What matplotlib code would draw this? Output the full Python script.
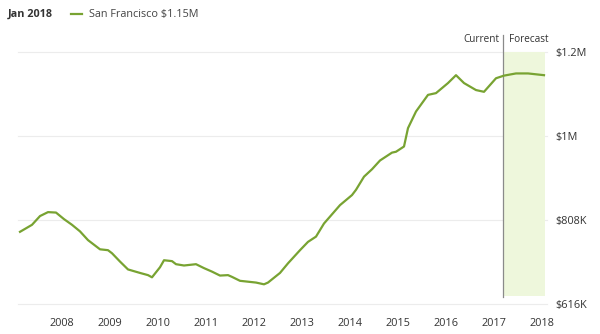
import matplotlib.pyplot as plt

# months counted from Jan 2008, values in $K
months = [0, 3, 5, 7, 9, 11, 13, 15, 17, 20, 22, 23, 25, 27, 30, 32, 33, 35, 36,
          38, 39, 41, 44, 46, 48, 50, 52, 53, 55, 57, 59, 61, 62, 65, 67, 70, 72,
          74, 76, 80, 83, 84, 86, 88, 90, 93, 94, 96, 97, 99, 102, 104, 107, 109,
          111, 114, 116, 119, 121, 124, 127, 131]
values = [781, 797, 817, 826, 825, 810, 797, 782, 762, 741, 739, 732, 713, 695,
          687, 682, 677, 700, 716, 714, 707, 704, 707, 698, 690, 681, 682, 678,
          669, 667, 665, 661, 665, 687, 709, 739, 758, 770, 800, 842, 865, 877,
          907, 924, 944, 962, 964, 976, 1018, 1056, 1094, 1098, 1121, 1139, 1121,
          1105, 1101, 1132, 1138, 1143, 1143, 1139]

year_labels = ["2008", "2009", "2010", "2011", "2012", "2013", "2014", "2015",
               "2016", "2017", "2018"]
year_ticks = [10.5 + 12 * i for i in range(len(year_labels))]
price_ticks = [616, 808, 1000, 1192]
price_labels = ["$616K", "$808K", "$1M", "$1.2M"]
current_month = 120.75
end_month = 131.3

GREEN = "#78a332"
plt.rcParams["font.family"] = ["Open Sans", "DejaVu Sans"]

fig = plt.figure(figsize=(6, 3.34), dpi=100)
ax = fig.add_axes([18 / 600, 30 / 334, 529 / 600, 274 / 334])
ax.set_xlim(-0.5, 131.75)
ytop = 616 + 274 * 192 / 84
ax.set_ylim(616, ytop)

for p in price_ticks:
    ax.axhline(p, color="#ececec", lw=0.8, zorder=0, clip_on=False)

ax.axvspan(current_month, end_month, ymin=0.03, ymax=(1192 - 616) / (ytop - 616),
           color="#eef7dc", lw=0, zorder=1)
ax.axvline(current_month, ymin=0.025, ymax=(304 - 35) / 274, color="#8a8a8a",
           lw=0.9, zorder=2)
ax.plot(months, values, color=GREEN, lw=1.6, zorder=3, solid_joinstyle="round")

label_y = (304 - 40) / 274
ax.text(current_month - 1, label_y, "Current", transform=ax.get_xaxis_transform(),
        ha="right", va="center", fontsize=7.2, color="#333333")
ax.text(current_month + 1.5, label_y, "Forecast", transform=ax.get_xaxis_transform(),
        ha="left", va="center", fontsize=7.2, color="#333333")

ax.set_xticks(year_ticks)
ax.set_xticklabels(year_labels)
ax.yaxis.tick_right()
ax.set_yticks(price_ticks)
ax.set_yticklabels(price_labels)
ax.tick_params(axis="x", length=0, pad=10, labelsize=7.8, colors="#333333")
ax.tick_params(axis="y", length=0, pad=6, labelsize=7.8, colors="#333333")
for s in ax.spines.values():
    s.set_visible(False)

fig.text(8 / 600, 1 - 14 / 334, "Jan 2018", fontsize=7.8, fontweight="bold",
         color="#333333", va="center")
fig.add_artist(plt.Line2D([71 / 600, 82 / 600], [1 - 14 / 334] * 2, color=GREEN, lw=1.6))
fig.text(89 / 600, 1 - 14 / 334, "San Francisco $1.15M", fontsize=7.8,
         color="#444444", va="center")

fig.savefig("out.png", dpi=100)
